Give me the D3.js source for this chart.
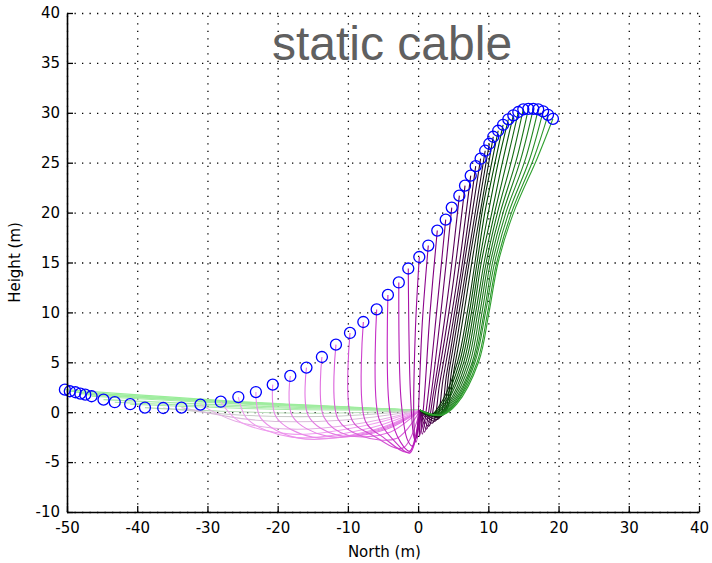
<!DOCTYPE html>
<html>
<head>
<meta charset="utf-8">
<script src="https://cdn.jsdelivr.net/npm/d3@7"></script>
<style>
  body { margin: 0; background: #fff; }
  svg { display: block; }
</style>
</head>
<body>
<div id="chart"></div>
<script>
// axis ticks
const xTicks = [-50, -40, -30, -20, -10, 0, 10, 20, 30, 40];
const yTicks = [-10, -5, 0, 5, 10, 15, 20, 25, 30, 35, 40];

// cable tip positions (blue circles), in time order
const tipX = [-50.3, -49.6, -48.8, -48.1, -47.4, -46.5, -44.8, -43.2, -41.0, -38.9,
  -36.3, -33.7, -31.0, -28.1, -25.6, -23.1, -20.7, -18.2, -15.9, -13.7,
  -11.7, -9.7, -7.8, -5.9, -4.3, -2.75, -1.4, 0.17, 1.45, 2.73,
  3.93, 4.79, 5.87, 6.68, 7.49, 8.2, 8.9, 9.55, 10.14, 10.7,
  11.4, 12.1, 12.85, 13.56, 14.27, 14.98, 15.7, 16.4, 17.1, 17.8,
  18.5, 19.2];
const tipY = [2.26, 2.1, 2.0, 1.86, 1.76, 1.6, 1.26, 1.0, 0.8, 0.46,
  0.42, 0.46, 0.76, 1.05, 1.52, 2.02, 2.76, 3.63, 4.47, 5.53,
  6.77, 7.94, 9.04, 10.3, 11.75, 13.0, 14.4, 15.55, 16.7, 18.2,
  19.3, 20.5, 21.7, 22.7, 23.7, 24.65, 25.4, 26.2, 26.9, 27.6,
  28.2, 28.8, 29.35, 29.75, 30.08, 30.35, 30.4, 30.4, 30.35, 30.15,
  29.8, 29.4];

// ground anchor of the cable
const anchor = [0.3, 0.2];

// intermediate cable points, tip -> anchor
const cableMid = [
  [[-25, 1.05]],
  [[-25, 0.98]],
  [[-24, 0.95]],
  [[-24, 0.88]],
  [[-23.5, 0.83]],
  [[-23, 0.75]],
  [[-22, 0.58]],
  [[-21.5, 0.45]],
  [[-20.5, 0.3]],
  [[-28, 0.1], [-14, -0.1]],
  [[-25, -0.3], [-12, -0.4]],
  [[-23, -0.8], [-11, -0.8]],
  [[-26, -0.9], [-18, -1.7], [-9, -1.2]],
  [[-25.5, -0.9], [-18, -2.2], [-8, -1.4]],
  [[-24.3, -0.7], [-18, -2.5], [-7, -1.6]],
  [[-22.4, -0.6], [-17, -2.6], [-6, -1.7]],
  [[-20.2, -0.5], [-15, -2.5], [-5.5, -1.7]],
  [[-17.9, -0.4], [-13, -2.4], [-5, -1.7]],
  [[-15.6, -0.4], [-11.5, -2.3], [-4.5, -1.7]],
  [[-13.4, -0.5], [-10, -2.3], [-4, -2.0]],
  [[-11.4, -0.7], [-8, -2.4], [-3, -2.6]],
  [[-9.4, -0.8], [-6.5, -2.3], [-2.2, -3.6]],
  [[-7.5, -0.9], [-5, -2.5], [-1.3, -4.0]],
  [[-5.6, -0.6], [-3.5, -2.8], [-1.2, -4.1]],
  [[-4.0, 0], [-2.5, -3.0], [-1.2, -3.9]],
  [[-2.4, 1], [-1.5, -2.8], [-0.8, -3.4]],
  [[-1.1, 2], [-0.6, -2.5], [-0.3, -3.0]],
  [[-0.4, 8], [-0.6, -1], [-0.4, -2.8]],
  [[0.6, 9], [0, -0.5], [-0.2, -2.6]],
  [[1.7, 10], [0.7, 0], [0.2, -2.4]],
  [[2.7, 10.5], [1.3, 1], [0.6, -2.2]],
  [[3.4, 11], [1.8, 1.5], [0.9, -2.0]],
  [[4.2, 11.5], [2.2, 2], [1.2, -1.7]],
  [[4.8, 12], [2.6, 2.5], [1.5, -1.4]],
  [[5.5, 13], [3.1, 3], [2, -1.1]],
  [[6.1, 14], [3.6, 3.5], [2.4, -0.9]],
  [[6.6, 15], [4.1, 4], [2.8, -0.7]],
  [[7.1, 15.5], [4.5, 4.5], [3.1, -0.5]],
  [[7.5, 16], [4.9, 4.7], [3.3, -0.4]],
  [[8.0, 16.5], [5.3, 5], [3.5, -0.3]],
  [[10.2, 24], [9.1, 20], [8.1, 15], [7.0, 10], [5.6, 5], [3.5, 1.2], [1.8, -0.3]],
  [[10.8, 24.5], [9.5, 20], [8.4, 15], [7.3, 10], [5.9, 5], [3.7, 1.1], [2.0, -0.3]],
  [[11.4, 25], [10.0, 20], [8.7, 15], [7.6, 10], [6.2, 5], [3.9, 1.0], [2.1, -0.3]],
  [[12.0, 25], [10.5, 20], [9.0, 15], [7.9, 10], [6.5, 5], [4.1, 1.0], [2.3, -0.3]],
  [[12.6, 25], [10.9, 20], [9.4, 15], [8.2, 10], [6.8, 5], [4.3, 0.9], [2.5, -0.3]],
  [[13.3, 25.2], [11.3, 20], [9.7, 15], [8.5, 10], [7.1, 5], [4.5, 0.9], [2.6, -0.3]],
  [[14.0, 25.3], [11.7, 20], [10.0, 15], [8.8, 10], [7.4, 5], [4.7, 0.9], [2.7, -0.3]],
  [[14.6, 25.3], [12.1, 20], [10.3, 15], [9.1, 10], [7.7, 5], [4.9, 0.9], [2.9, -0.3]],
  [[15.3, 25.4], [12.5, 20], [10.6, 15], [9.4, 10], [7.9, 5], [5.0, 0.8], [3.0, -0.3]],
  [[15.9, 25.4], [12.9, 20], [10.9, 15], [9.6, 10], [8.1, 5], [5.2, 0.8], [3.1, -0.3]],
  [[16.5, 25.5], [13.3, 20], [11.2, 15], [9.9, 10], [8.4, 5], [5.3, 0.8], [3.3, -0.3]],
  [[17.0, 25.5], [13.6, 20], [11.4, 15], [10.1, 10], [8.6, 5], [5.5, 0.8], [3.4, -0.3]]
];

// colour of cable by time index
const colorIndex = [0, 8, 11, 13, 19, 24, 29, 34, 38, 41, 51];
const colorValue = ["#99ee99", "#a8eaa8", "#d8bcd8", "#f0a0f0", "#e070e0",
  "#c020c0", "#820082", "#420042", "#141014", "#004800", "#30a030"];

const width = 712, height = 563;
const margin = { left: 67, right: 13, top: 13, bottom: 51 };
const w = width - margin.left - margin.right;
const h = height - margin.top - margin.bottom;

const svg = d3.select("#chart").append("svg")
  .attr("width", width)
  .attr("height", height)
  .style("font-family", "'DejaVu Sans', sans-serif");

svg.append("rect").attr("width", width).attr("height", height).attr("fill", "#fff");

const g = svg.append("g").attr("transform", `translate(${margin.left},${margin.top})`);

const x = d3.scaleLinear().domain([-50, 40]).range([0, w]);
const y = d3.scaleLinear().domain([-10, 40]).range([h, 0]);

const color = d3.scaleLinear().domain(colorIndex).range(colorValue).interpolate(d3.interpolateRgb);

// dotted grid
g.append("g")
  .attr("transform", `translate(0,${h})`)
  .call(d3.axisBottom(x).tickValues(xTicks).tickSize(-h).tickFormat(""))
  .call(s => s.select(".domain").remove())
  .selectAll("line")
  .attr("stroke", "#000")
  .attr("stroke-width", 1.3)
  .attr("stroke-dasharray", "1.3,6.2");

g.append("g")
  .call(d3.axisLeft(y).tickValues(yTicks).tickSize(-w).tickFormat(""))
  .call(s => s.select(".domain").remove())
  .selectAll("line")
  .attr("stroke", "#000")
  .attr("stroke-width", 1.3)
  .attr("stroke-dasharray", "1.3,6.2");

// cables
const line = d3.line()
  .x(d => x(d[0]))
  .y(d => y(d[1]))
  .curve(d3.curveCatmullRom.alpha(0.5));

const cables = tipX.map((tx, i) => [[tx, tipY[i]], ...cableMid[i], anchor]);

g.append("g").selectAll("path")
  .data(cables)
  .enter()
  .append("path")
  .attr("d", line)
  .attr("fill", "none")
  .attr("stroke", (d, i) => color(i))
  .attr("stroke-width", 1.1);

// tip markers
g.append("g").selectAll("circle")
  .data(tipX)
  .enter()
  .append("circle")
  .attr("cx", d => x(d))
  .attr("cy", (d, i) => y(tipY[i]))
  .attr("r", 5.5)
  .attr("fill", "none")
  .attr("stroke", "#0000ff")
  .attr("stroke-width", 1.3);

// axes (left and bottom, ticks inside)
const xAxis = g.append("g")
  .attr("transform", `translate(0,${h})`)
  .call(d3.axisBottom(x).tickValues(xTicks).tickSize(-6).tickSizeOuter(0).tickPadding(10).tickFormat(d => String(d)));

const yAxis = g.append("g")
  .call(d3.axisLeft(y).tickValues(yTicks).tickSize(-6).tickSizeOuter(0).tickPadding(7).tickFormat(d => String(d)));

[xAxis, yAxis].forEach(a => {
  a.select(".domain").attr("stroke", "#000").attr("stroke-width", 1.6);
  a.selectAll(".tick line").attr("stroke", "#000").attr("stroke-width", 1.3);
  a.selectAll("text")
    .attr("fill", "#000")
    .style("font-family", "'DejaVu Sans', sans-serif")
    .style("font-size", "15px");
});

// labels
svg.append("text")
  .attr("x", margin.left + x(-4.8))
  .attr("y", 557)
  .attr("text-anchor", "middle")
  .style("font-size", "15px")
  .text("North (m)");

svg.append("text")
  .attr("transform", `translate(20,${margin.top + h / 2}) rotate(-90)`)
  .attr("text-anchor", "middle")
  .style("font-size", "15px")
  .text("Height (m)");

svg.append("text")
  .attr("x", 272)
  .attr("y", 60)
  .attr("fill", "#606060")
  .style("font-family", "'Liberation Sans', Arial, sans-serif")
  .style("font-size", "48px")
  .text("static cable");
</script>
</body>
</html>
